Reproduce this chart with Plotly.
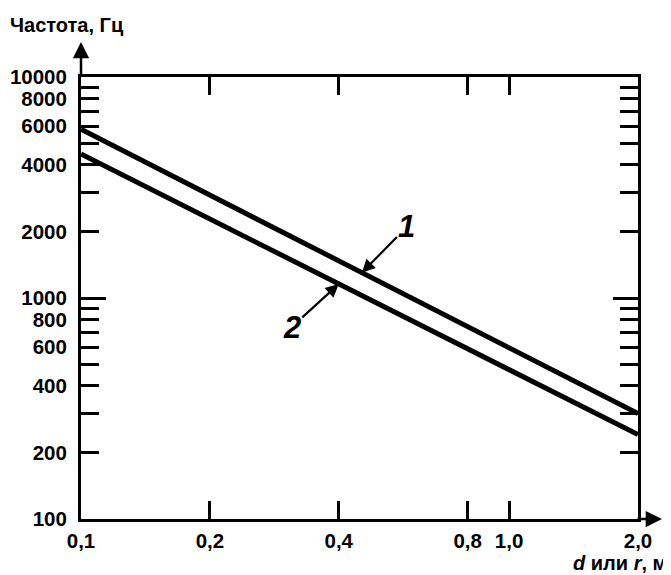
import math
import plotly.graph_objects as go

# Data
dist = [0.1, 2.0]                 # d or r, m
freq_1 = [5800, 300]              # curve 1, Hz
freq_2 = [4480, 241]              # curve 2, Hz

x_tickvals = [0.1, 0.2, 0.4, 0.8, 1.0, 2.0]
x_ticktext = ["0,1", "0,2", "0,4", "0,8", "1,0", "2,0"]
y_tickvals = [100, 200, 400, 600, 800, 1000, 2000, 4000, 6000, 8000, 10000]
y_ticktext = ["100", "200", "400", "600", "800", "1000", "2000", "4000", "6000", "8000", "10000"]
y_minor = [300, 500, 700, 900, 3000, 5000, 7000, 9000]
y_long = [1000]

# label anchor points on curves
lab1_x, lab1_y = 0.453, 1301
lab2_x, lab2_y = 0.40, 1157

FONT = "Liberation Sans, Arial, sans-serif"
BLACK = "#000000"
TICKFONT = dict(family=FONT, size=20.5, color=BLACK, weight="bold")

fig = go.Figure()
fig.add_trace(go.Scatter(x=dist, y=freq_1, mode="lines",
                         line=dict(color=BLACK, width=5), showlegend=False))
fig.add_trace(go.Scatter(x=dist, y=freq_2, mode="lines",
                         line=dict(color=BLACK, width=5), showlegend=False))

fig.update_layout(
    width=663, height=567,
    margin=dict(l=73, r=33, t=69, b=56, autoexpand=False),
    paper_bgcolor="white", plot_bgcolor="white",
    font=dict(family=FONT, size=20, color=BLACK),
    xaxis=dict(type="log", range=[-1, 0.30103], automargin=False,
               tickvals=x_tickvals, ticktext=x_ticktext,
               ticks="inside", ticklen=18, tickwidth=3, tickcolor=BLACK,
               showline=True, linewidth=3, linecolor=BLACK, mirror="ticks",
               showgrid=False, zeroline=False, ticklabelstandoff=1,
               tickfont=TICKFONT),
    yaxis=dict(type="log", range=[2, 4], automargin=False,
               tickvals=y_tickvals, ticktext=y_ticktext,
               ticks="inside", ticklen=18, tickwidth=3, tickcolor=BLACK,
               showline=True, linewidth=3, linecolor=BLACK, mirror="ticks",
               showgrid=False, zeroline=False, ticklabelstandoff=7,
               minor=dict(tickvals=y_minor, ticks="inside", ticklen=18,
                          tickwidth=3, tickcolor=BLACK, showgrid=False),
               tickfont=TICKFONT),
    yaxis2=dict(type="log", range=[2, 4], overlaying="y", side="left", automargin=False,
                tickvals=y_long, showticklabels=False,
                ticks="inside", ticklen=25, tickwidth=3, tickcolor=BLACK,
                showline=True, linewidth=3, linecolor=BLACK, mirror="ticks",
                showgrid=False, zeroline=False),
)
# invisible trace to activate yaxis2
fig.add_trace(go.Scatter(x=dist, y=freq_1, yaxis="y2", mode="lines",
                         line=dict(width=0), hoverinfo="skip", showlegend=False))

annotations = [
    # axis arrows
    dict(x=0, y=1.079, xref="paper", yref="paper", ax=0, ay=36,
         text="", showarrow=True, arrowhead=2, arrowsize=1.3, arrowwidth=2.5, arrowcolor=BLACK),
    dict(x=1.043, y=0, xref="paper", yref="paper", ax=-26, ay=0,
         text="", showarrow=True, arrowhead=2, arrowsize=1.3, arrowwidth=2.5, arrowcolor=BLACK),
    # axis titles
    dict(x=-0.131, y=1.118, xref="paper", yref="paper", xanchor="left", yanchor="middle",
         text="Частота, Гц", showarrow=False,
         font=dict(family=FONT, size=20, color=BLACK, weight="bold")),
    dict(x=1.056, y=-0.1, xref="paper", yref="paper", xanchor="right", yanchor="middle",
         text="<i>d</i> или <i>r</i>, м", showarrow=False,
         font=dict(family=FONT, size=20, color=BLACK, weight="bold")),
    # curve labels
    dict(x=math.log10(lab1_x), y=math.log10(lab1_y), xref="x", yref="y",
         text="<i>1</i>", showarrow=True, ax=45, ay=-46,
         arrowhead=2, arrowsize=1.2, arrowwidth=2.2, arrowcolor=BLACK,
         font=dict(family=FONT, size=31, color=BLACK, weight="bold")),
    dict(x=math.log10(lab2_x), y=math.log10(lab2_y), xref="x", yref="y",
         text="<i>2</i>", showarrow=True, ax=-47, ay=43,
         arrowhead=2, arrowsize=1.2, arrowwidth=2.2, arrowcolor=BLACK,
         font=dict(family=FONT, size=31, color=BLACK, weight="bold")),
]
fig.update_layout(annotations=annotations)

fig.write_html("out.html")
